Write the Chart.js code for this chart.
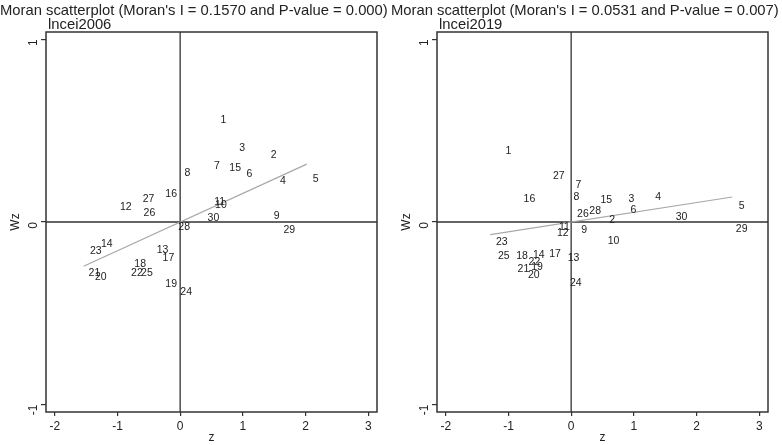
<!DOCTYPE html>
<html><head><meta charset="utf-8">
<script src="https://cdn.jsdelivr.net/npm/chart.js@4.4.0/dist/chart.umd.min.js"></script>
<style>
html,body{margin:0;padding:0;background:#fff;}
#wrap{position:relative;width:782px;height:445px;}
.pane{position:absolute;top:0;width:391px;height:445px;}
</style></head>
<body><div id="wrap">
<div class="pane" style="left:0"><canvas id="c1"></canvas></div>
<div class="pane" style="left:391px"><canvas id="c2"></canvas></div>
</div>
<script>
const ids = ['1','2','3','4','5','6','7','8','9','10','11','12','13','14','15','16','17','18','19','20','21','22','23','24','25','26','27','28','29','30'];
const z2006  = [0.69,1.49,0.99,1.64,2.16,1.105,0.585,0.117,1.54,0.65,0.63,-0.866,-0.282,-1.17,0.877,-0.143,-0.187,-0.638,-0.144,-1.265,-1.367,-0.69,-1.345,0.096,-0.53,-0.49,-0.505,0.064,1.74,0.53];
const wz2006 = [0.557,0.366,0.406,0.224,0.233,0.262,0.306,0.269,0.031,0.095,0.108,0.082,-0.153,-0.12,0.293,0.153,-0.2,-0.233,-0.339,-0.299,-0.28,-0.279,-0.16,-0.384,-0.279,0.051,0.126,-0.026,-0.047,0.022];
const z2019  = [-1.0,0.655,0.963,1.39,2.72,0.995,0.117,0.085,0.208,0.676,-0.107,-0.133,0.037,-0.516,0.56,-0.666,-0.256,-0.783,-0.543,-0.596,-0.762,-0.586,-1.107,0.075,-1.075,0.187,-0.197,0.383,2.72,1.76];
const wz2019 = [0.39,0.011,0.127,0.137,0.089,0.067,0.2,0.138,-0.042,-0.102,-0.026,-0.06,-0.195,-0.182,0.12,0.126,-0.177,-0.187,-0.248,-0.29,-0.26,-0.217,-0.109,-0.335,-0.184,0.042,0.253,0.062,-0.037,0.029];
const fitX2006 = [-1.54, 2.02];
const fitY2006 = [-0.242, 0.317];
const fitX2019 = [-1.29, 2.57];
const fitY2019 = [-0.069, 0.137];
const xTicks = [-2,-1,0,1,2,3];
const yTicks = [-1,0,1];
const titles = ["Moran scatterplot (Moran's I = 0.1570 and P-value = 0.000)", "Moran scatterplot (Moran's I = 0.0531 and P-value = 0.007)"];
const subtitles = ['lncei2006','lncei2019'];

const FONT = '"Liberation Sans", Arial, sans-serif';
const INK = '#222';

const panelPlugin = {
  id: 'panel',
  beforeDatasetsDraw(chart, args, opts) {
    const {ctx, chartArea: a, scales: {x, y}} = chart;
    ctx.save();
    ctx.strokeStyle = '#333';
    ctx.lineWidth = 1.3;
    const x0 = x.getPixelForValue(0), y0 = y.getPixelForValue(0);
    ctx.beginPath();
    ctx.moveTo(x0, a.top); ctx.lineTo(x0, a.bottom);
    ctx.moveTo(a.left, y0); ctx.lineTo(a.right, y0);
    ctx.stroke();
    ctx.restore();
  },
  afterDraw(chart, args, opts) {
    const {ctx, chartArea: a} = chart;
    ctx.save();
    ctx.strokeStyle = '#333';
    ctx.lineWidth = 1.5;
    ctx.strokeRect(a.left, a.top, a.right - a.left, a.bottom - a.top);
    const meta = chart.getDatasetMeta(1);
    ctx.fillStyle = INK;
    ctx.font = '10.5px ' + FONT;
    ctx.textAlign = 'center';
    ctx.textBaseline = 'middle';
    meta.data.forEach((pt, i) => {
      ctx.fillText(chart.data.datasets[1].data[i].id, pt.x, pt.y);
    });
    ctx.textAlign = 'left';
    ctx.font = '14.8px ' + FONT;
    ctx.fillText(opts.title, opts.titleX, 11);
    ctx.fillText(opts.subtitle, a.left + 2, 25);
    ctx.restore();
  }
};

function makeChart(id, zs, wzs, fx, fy, title, subtitle, titleX) {
  const pts = zs.map((v, i) => ({x: v, y: wzs[i], id: ids[i]}));
  const fit = fx.map((v, i) => ({x: v, y: fy[i]}));
  return new Chart(document.getElementById(id), {
    type: 'scatter',
    data: {datasets: [
      {type: 'line', data: fit, borderColor: '#a8a8a8', borderWidth: 1.2, pointRadius: 0, fill: false},
      {data: pts, pointRadius: 0, pointHoverRadius: 0, borderWidth: 0}
    ]},
    options: {
      responsive: false, animation: false, devicePixelRatio: 1,
      layout: {padding: {top: 32, right: 14, left: 8, bottom: 0}},
      plugins: {legend: {display: false}, tooltip: {enabled: false},
        panel: {title, subtitle, titleX}},
      scales: {
        x: {type: 'linear', min: -2.14, max: 3.14,
          afterBuildTicks: s => { s.ticks = xTicks.map(v => ({value: v})); },
          afterFit: s => { s.height = 33; },
          grid: {drawOnChartArea: false, drawTicks: true, tickLength: 4, color: '#333', lineWidth: 1.2},
          border: {display: false},
          ticks: {color: INK, font: {family: FONT, size: 12}, padding: 3, maxRotation: 0},
          title: {display: true, text: 'z', color: INK, font: {family: FONT, size: 12}, padding: {top: 0, bottom: 0}}
        },
        y: {type: 'linear', min: -1.04, max: 1.04,
          afterBuildTicks: s => { s.ticks = yTicks.map(v => ({value: v})); },
          afterFit: s => { s.width = 38; },
          grid: {drawOnChartArea: false, drawTicks: true, tickLength: 5, color: '#333', lineWidth: 1.2},
          border: {display: false},
          ticks: {color: INK, font: {family: FONT, size: 12}, padding: 7, minRotation: 90, maxRotation: 90},
          title: {display: true, text: 'Wz', color: INK, font: {family: FONT, size: 12}, padding: {top: 0, bottom: 0}}
        }
      }
    },
    plugins: [panelPlugin]
  });
}
document.getElementById('c1').width = 391; document.getElementById('c1').height = 445;
document.getElementById('c2').width = 391; document.getElementById('c2').height = 445;
makeChart('c1', z2006, wz2006, fitX2006, fitY2006, titles[0], subtitles[0], 0);
makeChart('c2', z2019, wz2019, fitX2019, fitY2019, titles[1], subtitles[1], 0);
</script>
</body></html>
